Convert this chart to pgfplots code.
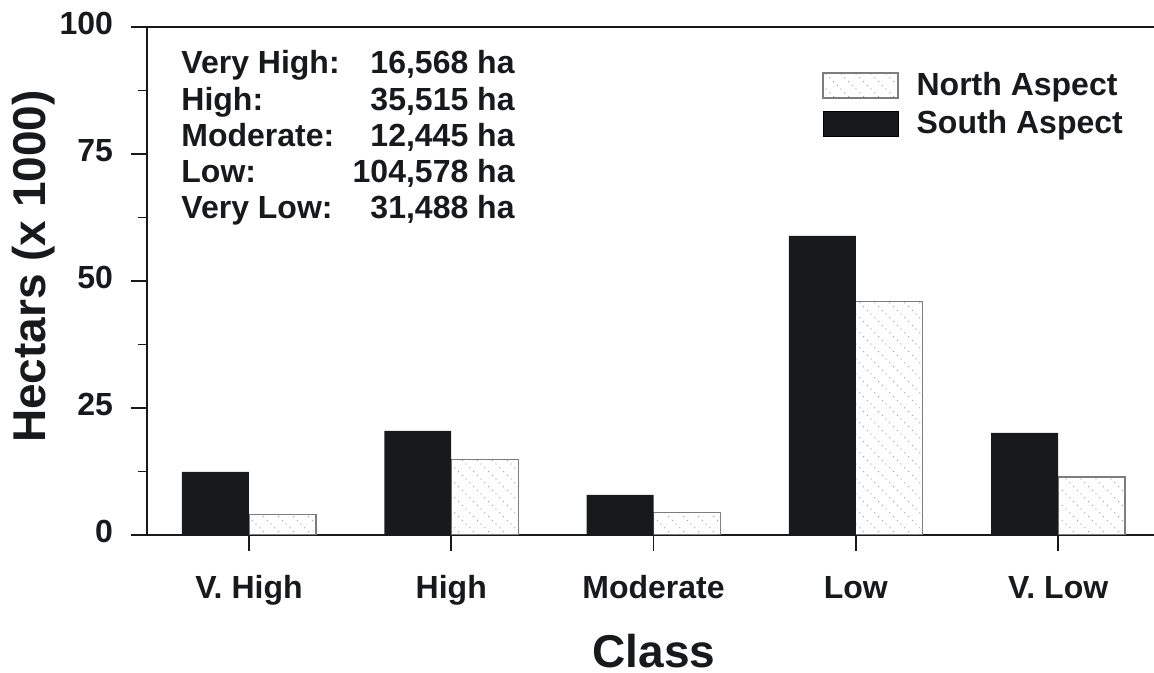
\documentclass[border=0pt]{standalone}
\usepackage{fontspec}
\setmainfont{Liberation Sans}
\usepackage{pgfplots}
\pgfplotsset{compat=1.18}
\usetikzlibrary{patterns}
\definecolor{barblack}{RGB}{24,25,27}
\definecolor{bordergray}{RGB}{125,125,125}
\pgfdeclarepatternformonly{sparsenw}{\pgfqpoint{-1pt}{-1pt}}{\pgfqpoint{8.5pt}{8.5pt}}{\pgfqpoint{7.5pt}{7.5pt}}{%
  \pgfsetlinewidth{0.45pt}%
  \pgfpathmoveto{\pgfqpoint{0.3pt}{7.2pt}}\pgfpathlineto{\pgfqpoint{0.7pt}{6.8pt}}%
  \pgfpathmoveto{\pgfqpoint{2.2pt}{5.3pt}}\pgfpathlineto{\pgfqpoint{2.6pt}{4.9pt}}%
  \pgfpathmoveto{\pgfqpoint{4.1pt}{3.4pt}}\pgfpathlineto{\pgfqpoint{4.5pt}{3.0pt}}%
  \pgfpathmoveto{\pgfqpoint{6.0pt}{1.5pt}}\pgfpathlineto{\pgfqpoint{6.4pt}{1.1pt}}%
  \pgfusepath{stroke}%
}
\pgfplotsset{
  boxlegend/.style={area legend, legend image code/.code={\draw[##1] (0pt,-6.25pt) rectangle (37.5pt,6.25pt);}},
}
\begin{document}
\begin{tikzpicture}
\path[use as bounding box] (-73.5pt,-69pt) rectangle (503.5pt,267.5pt);
\begin{axis}[
  at={(0,0)}, anchor=south west,
  scale only axis, width=503.5pt, height=254pt,
  xmin=-0.504, xmax=4.474, ymin=0, ymax=100,
  axis x line*=box, axis y line*=left,
  xtick pos=left, ytick pos=left,
  axis line style={line width=0.75pt, color=barblack},
  xtick={0,1,2,3,4},
  xticklabels={V. High, High, Moderate, Low, V. Low},
  ytick={0,25,50,75,100},
  minor y tick num=1,
  tick align=outside,
  major tick length=8pt, minor tick length=4.25pt,
  tick style={line width=0.75pt, color=barblack},
  ticklabel style={font=\fontsize{16}{19}\selectfont\bfseries, text=barblack},
  typeset ticklabels with strut,
  xticklabel style={yshift=-7pt},
  yticklabel style={xshift=-5.5pt},
  /pgf/number format/assume math mode=true,
  xlabel={Class},
  ylabel={Hectars (x 1000)},
  label style={font=\fontsize{23}{27}\selectfont\bfseries, text=barblack},
  xlabel style={at={(rel axis cs:0.5035,0)}, anchor=base, inner sep=0pt, yshift=-66pt},
  ylabel style={at={(ticklabel cs:0.5285)}},
  ylabel shift=-4.5pt,
  legend style={at={(rel axis cs:0.6703,0.9114)}, anchor=north west, draw=none, fill=none,
    inner sep=0pt, row sep=6pt,
    nodes={inner sep=0pt, text=barblack},
    /tikz/every odd column/.style={column sep=9pt},
    font=\fontsize{16}{19}\selectfont\bfseries},
  legend cell align=left,
]
\addplot[ybar, bar width=0.331, bar shift=0.1655, fill=white, draw=bordergray, line width=0.6pt,
  postaction={pattern=sparsenw, pattern color=gray!70}, boxlegend]
  coordinates {(0,4.1) (1,14.9) (2,4.5) (3,45.9) (4,11.4)};
\addlegendentry{North Aspect}
\addplot[ybar, bar width=0.331, bar shift=-0.1655, fill=barblack, draw=none, boxlegend]
  coordinates {(0,12.45) (1,20.5) (2,7.9) (3,58.9) (4,20.1)};
\addlegendentry{South Aspect}
\node[anchor=base west, inner sep=0pt, font=\fontsize{16}{18.1}\selectfont\bfseries, text=barblack]
  at (rel axis cs:0.0338,0.9075)
  {\begin{tabular}[t]{@{}l@{\hspace{6.5pt}}r@{}}
   Very High: & 16,568 ha\\
   High: & 35,515 ha\\
   Moderate: & 12,445 ha\\
   Low: & 104,578 ha\\
   Very Low: & 31,488 ha
   \end{tabular}};
\end{axis}
\end{tikzpicture}
\end{document}
